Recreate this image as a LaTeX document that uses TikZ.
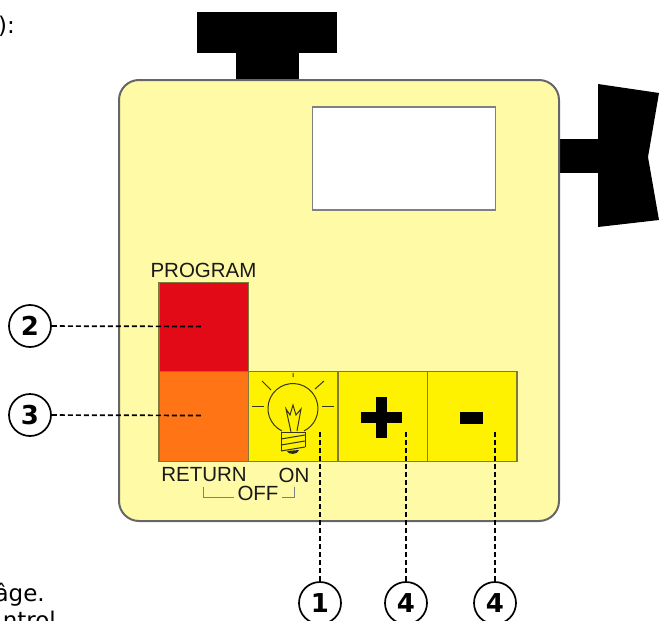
\documentclass[tikz,border=0pt]{standalone}
\usepackage{fontspec}
\setmainfont{Liberation Sans}
\newfontfamily\notefont{DejaVu Sans}
\definecolor{bodyyellow}{HTML}{FFFAA5}
\definecolor{btnyellow}{HTML}{FFF200}
\definecolor{btnred}{HTML}{E30A17}
\definecolor{btnorange}{HTML}{FF7516}
\definecolor{btnedge}{HTML}{7D7A3C}
\tikzset{
    btn/.style={draw=btnedge,line width=1.2pt,minimum width=89.5pt,minimum height=89.3pt,inner sep=0pt,outer sep=0pt,anchor=north west},
    callout/.style={circle,draw=black,line width=1.7pt,fill=white,minimum size=42pt,inner sep=0pt,font=\notefont\bfseries\fontsize{26}{26}\selectfont},
    leader/.style={black,line width=1.7pt,dash pattern=on 5pt off 3pt},
    panellabel/.style={font=\fontsize{20.5}{20.5}\selectfont,text=black!90,inner sep=0pt},
    bulbline/.style={draw=black!55!btnedge,line width=1pt},
    pagetext/.style={font=\notefont\fontsize{23}{23}\selectfont,inner sep=0pt,anchor=base east}
}

\begin{document}
\begin{tikzpicture}[x=1pt,y=-1pt]
        \useasboundingbox (0,0) rectangle (659,621);

        %%% KNOBS %%%
        \fill[black] (197,12) rectangle (337,53);
        \fill[black] (236,53) rectangle (299,81);
        \fill[black] (558,139) rectangle (599,173);
        \fill[black] (598,84)--(659,93)--(648,157)--(659,220)--(598,227)--cycle;

        %%% BODY & DISPLAY %%%
        \draw[draw=black!60,fill=bodyyellow,line width=2pt,rounded corners=20pt] (119,80) rectangle (559,521);
        \draw[draw=black!50,fill=white,line width=1.2pt] (312.5,107) rectangle (495.5,210);

        %%% BUTTONS %%%
        \node[btn,fill=btnred] (program) at (159,282.5) {};
        \node[btn,fill=btnorange] (return) at (159,371.8) {};
        \node[btn,fill=btnyellow] (lamp) at (248.5,371.8) {};
        \node[btn,fill=btnyellow] (plus) at (338,371.8) {};
        \node[btn,fill=btnyellow] (minus) at (427.5,371.8) {};

        %%% PLUS & MINUS %%%
        \fill[black] (361,412) rectangle (402,423);
        \fill[black] (376,397) rectangle (387,438);
        \fill[black] (460,412) rectangle (483,424);

        %%% BULB %%%
        \draw[bulbline] (282,431) arc (116:424:25);
        \draw[bulbline] (281,432) -- (305,432);
        \draw[bulbline] (281,439) -- (305,435) (281,445) -- (305,441) (281,451) -- (305,447);
        \draw[bulbline] (281,432) -- (281,451) (305,432) -- (305,447);
        \fill[black!85] (287,451) -- (299,450) .. controls (298,455) and (288,455) .. (287,451) -- cycle;
        \draw[bulbline] (291,432) -- (286,409) -- (290,415) -- (293,405) -- (296,415) -- (301,409) -- (297,431);
        \draw[bulbline] (252,406) -- (264,406) (322,406) -- (334,406);
        \draw[bulbline] (262,381) -- (271,390) (324,381) -- (315,389) (293,373) -- (293,377);

        %%% PANEL LABELS %%%
        \node[panellabel] (programlabel) at (203.5,270) {PROGRAM};
        \node[panellabel] (returnlabel) at (204,475) {RETURN};
        \node[panellabel] (onlabel) at (294,475) {ON};
        \node[panellabel] (offlabel) at (258,493) {OFF};
        \draw[black!50,line width=1pt] (203,487)--(203,497.5)--(234,497.5);
        \draw[black!50,line width=1pt] (282,497.5)--(294,497.5)--(294,487);

        %%% CALLOUTS %%%
        \node[callout] (c2) at (30,326) {2};
        \node[callout] (c3) at (30,415) {3};
        \node[callout] (c1) at (320,603) {1};
        \node[callout] (c4a) at (406,603) {4};
        \node[callout] (c4b) at (495,603) {4};
        \coordinate (t2) at (203,326.5);
        \coordinate (t3) at (203,415.5);
        \coordinate (t1) at (320,432);
        \coordinate (t4a) at (406,432);
        \coordinate (t4b) at (495,432);
        \draw[leader] (c2)--(t2);
        \draw[leader] (c3)--(t3);
        \draw[leader] (t1)--(c1);
        \draw[leader] (t4a)--(c4a);
        \draw[leader] (t4b)--(c4b);

        %%% TEXT AT THE PAGE EDGE %%%
        \node[pagetext] (topnote) at (15,33) {):};
        \node[pagetext] (botnote) at (45,601) {âge.};
        \node[pagetext] (botnote2) at (56,628) {ntrol};
    \end{tikzpicture}
\end{document}
